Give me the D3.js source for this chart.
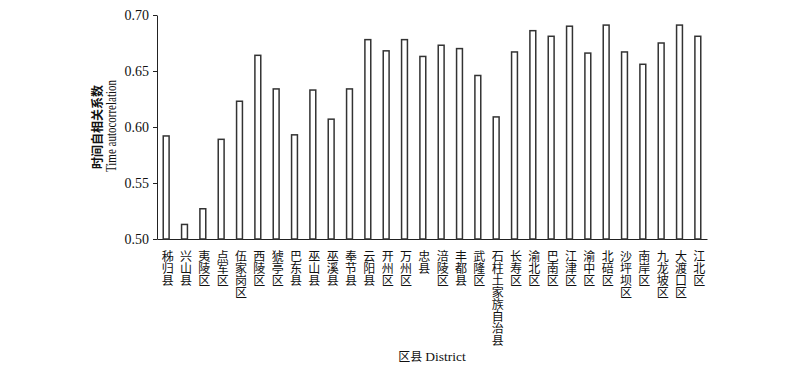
<!DOCTYPE html>
<html>
<head>
<meta charset="utf-8">
<script src="https://cdn.jsdelivr.net/npm/d3@7"></script>
<style>
  body { margin: 0; background: #fff; }
  svg text { font-family: "Liberation Serif", "Noto Sans CJK SC", serif; fill: #111; }
</style>
</head>
<body>
<div id="chart"></div>
<script>
// districts along the x axis
const districts = ["秭归县", "兴山县", "夷陵区", "点军区", "伍家岗区", "西陵区", "猇亭区", "巴东县",
    "巫山县", "巫溪县", "奉节县", "云阳县", "开州区", "万州区", "忠县", "涪陵区", "丰都县", "武隆区",
    "石柱土家族自治县", "长寿区", "渝北区", "巴南区", "江津区", "渝中区", "北碚区", "沙坪坝区",
    "南岸区", "九龙坡区", "大渡口区", "江北区"];
// time autocorrelation per district
const autocorr = [0.592, 0.513, 0.527, 0.589, 0.623, 0.664, 0.634, 0.593,
    0.633, 0.607, 0.634, 0.678, 0.668, 0.678, 0.663, 0.673, 0.670, 0.646,
    0.609, 0.667, 0.686, 0.681, 0.690, 0.666, 0.691, 0.667,
    0.656, 0.675, 0.691, 0.681];
const yTicks = [0.50, 0.55, 0.60, 0.65, 0.70];

let margin = {top: 15, right: 93, bottom: 137, left: 157},
    width = 800 - margin.left - margin.right,
    height = 376 - margin.top - margin.bottom;

let svg = d3.select("#chart")
    .append("svg")
    .attr("width", 800)
    .attr("height", 376)
    .append("g")
    .attr("transform", "translate(" + margin.left + "," + margin.top + ")");

let data = districts.map(function(d, i) { return {name: d, value: autocorr[i]}; });

let x = d3.scaleBand()
    .domain(districts)
    .range([0, width])
    .paddingInner(0.68)
    .paddingOuter(0.34);

let y = d3.scaleLinear()
    .domain([0.5, 0.7])
    .range([height, 0]);

// Y axis
let yAxis = svg.append("g")
    .call(d3.axisLeft(y).tickValues(yTicks).tickFormat(d3.format(".2f")).tickSize(4).tickSizeOuter(0));
yAxis.selectAll("path, line").attr("stroke", "#222");
yAxis.selectAll("text").style("font-size", "14px").attr("x", -8);

// X axis, labels written top to bottom
let xAxis = svg.append("g")
    .attr("transform", "translate(0," + height + ")")
    .call(d3.axisBottom(x).tickSize(0).tickSizeOuter(0));
xAxis.select("path").attr("stroke", "#222");
xAxis.selectAll("text")
    .attr("x", 0)
    .attr("y", 11)
    .attr("dy", null)
    .attr("text-anchor", "start")
    .style("font-size", "12px")
    .style("writing-mode", "vertical-rl")
    .style("text-orientation", "upright");

// Bars
svg.selectAll("rect.bar")
    .data(data)
    .enter()
    .append("rect")
    .attr("class", "bar")
    .attr("x", function(d) { return x(d.name); })
    .attr("width", x.bandwidth())
    .attr("y", function(d) { return y(d.value); })
    .attr("height", function(d) { return height - y(d.value); })
    .attr("fill", "white")
    .attr("stroke", "#333")
    .attr("stroke-width", 1.5);

// axis titles
svg.append("text")
    .attr("transform", "translate(-55," + (height / 2) + ")rotate(-90)")
    .attr("text-anchor", "middle")
    .style("font-size", "12px")
    .style("font-weight", "bold")
    .text("时间自相关系数");
svg.append("text")
    .attr("transform", "translate(-41," + (height / 2 - 1) + ")rotate(-90)")
    .attr("text-anchor", "middle")
    .attr("textLength", 92)
    .attr("lengthAdjust", "spacingAndGlyphs")
    .style("font-size", "15px")
    .text("Time autocorrelation");

let xt = svg.append("text")
    .attr("x", width / 2)
    .attr("y", height + 122)
    .attr("text-anchor", "middle");
xt.append("tspan").style("font-size", "12px").text("区县 ");
xt.append("tspan").style("font-size", "13.5px").text("District");
</script>
</body>
</html>
